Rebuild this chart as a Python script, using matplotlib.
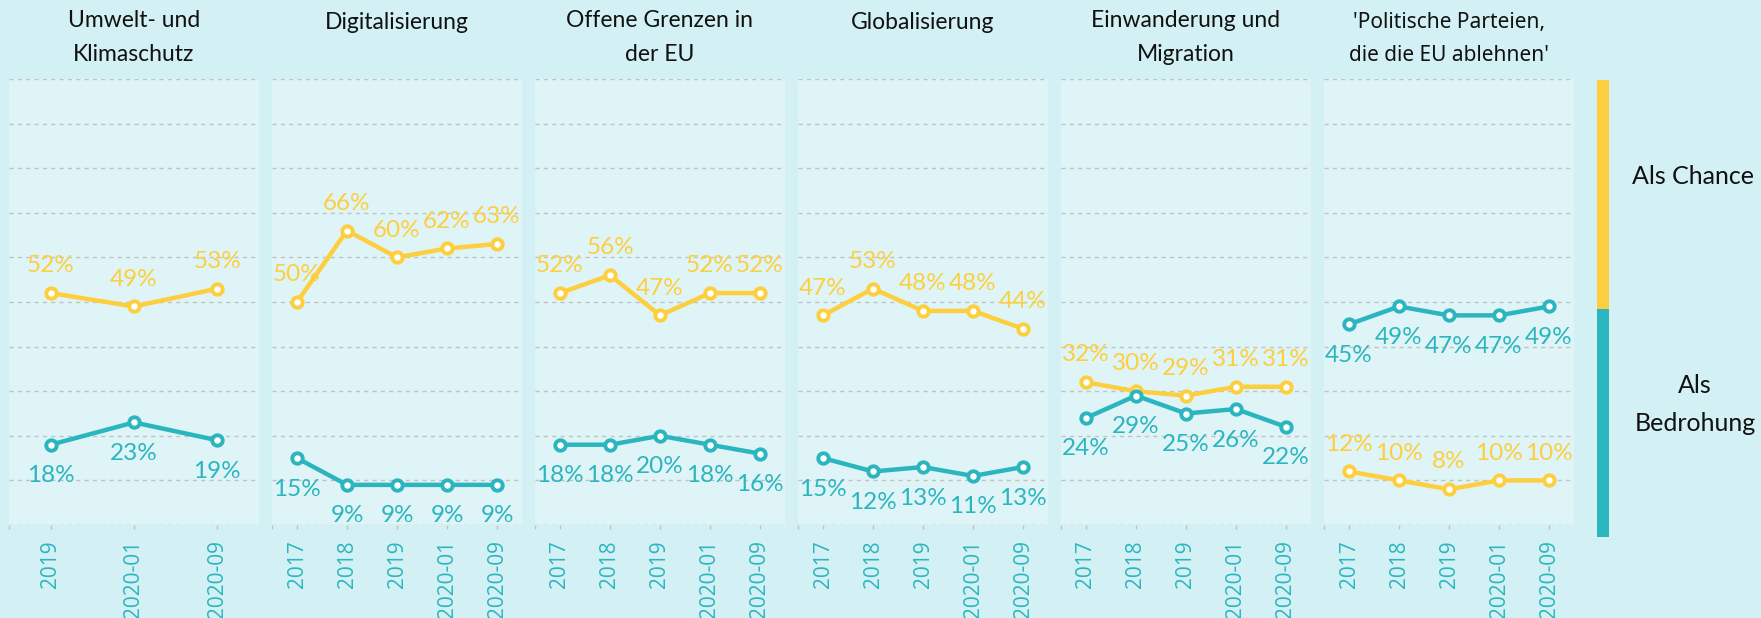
import numpy as np
import matplotlib
matplotlib.use("Agg")
import matplotlib.pyplot as plt

plt.rcParams['font.family'] = ['Lato', 'DejaVu Sans']

# survey waves
waves_short = ['2019', '2020-01', '2020-09']
waves_long = ['2017', '2018', '2019', '2020-01', '2020-09']

titles = ['Umwelt- und\nKlimaschutz', 'Digitalisierung', 'Offene Grenzen in\nder EU',
          'Globalisierung', 'Einwanderung und\nMigration',
          "'Politische Parteien,\ndie die EU ablehnen'"]

# share seeing the topic as a chance (%)
chance = [
    [52, 49, 53],
    [50, 66, 60, 62, 63],
    [52, 56, 47, 52, 52],
    [47, 53, 48, 48, 44],
    [32, 30, 29, 31, 31],
    [12, 10, 8, 10, 10],
]
# share seeing the topic as a threat (%)
threat = [
    [18, 23, 19],
    [15, 9, 9, 9, 9],
    [18, 18, 20, 18, 16],
    [15, 12, 13, 11, 13],
    [24, 29, 25, 26, 22],
    [45, 49, 47, 47, 49],
]
legend_labels = ['Als Chance', 'Als\nBedrohung']
legend_shares = [1, 1]

YELLOW = '#FDCF3E'
TEAL = '#2BB6BF'
BG = '#D3F0F4'
PANEL = '#DFF4F7'
GRID = '#C2C2C2'

W, H = 1761, 618
fig = plt.figure(figsize=(W / 100, H / 100), dpi=100, facecolor=BG)

for i in range(6):
    waves = waves_short if len(chance[i]) == 3 else waves_long
    x = np.arange(len(waves))
    ax = fig.add_axes([(9 + 263 * i) / W, 93 / H, 250 / W, 446 / H])
    ax.set_facecolor(PANEL)
    for s in ax.spines.values():
        s.set_visible(False)
    ax.set_xlim(-0.5, len(waves) - 0.5)
    ax.set_ylim(0, 100)
    ax.set_yticks(np.arange(0, 101, 10))
    ax.yaxis.grid(True, color=GRID, linestyle=(0, (3, 3)), linewidth=1)
    ax.tick_params(axis='y', left=False, labelleft=False)
    ax.set_xticks(x)
    ax.set_xticklabels(waves, rotation=90, fontfamily='Open Sans', fontsize=15, color=TEAL)
    ax.set_xticks([-0.5], minor=True)
    ax.tick_params(axis='x', which='both', length=3, width=1, color=GRID, pad=8)
    ax.set_axisbelow(True)

    for vals, col, off in [(chance[i], YELLOW, 15), (threat[i], TEAL, -27)]:
        ax.plot(x, vals, color=col, lw=3.2, marker='o', ms=7.5, mew=2.8,
                mfc='white', mec=col, zorder=3, clip_on=False)
        for xi, v in zip(x, vals):
            ax.annotate(f'{v}%', (xi, v), xytext=(0, off), textcoords='offset points',
                        ha='center', va='baseline', fontsize=17.5, color=col, zorder=4)

    # baseline of the last title line
    base = 61 if '\n' in titles[i] else 29
    fam = ['Noto Sans', 'DejaVu Sans'] if i == 5 else ['Lato', 'DejaVu Sans']
    fig.text((9 + 263 * i + 125) / W, 1 - base / H, titles[i], ha='center', va='baseline',
             fontsize=15 if i == 5 else 16.5, family=fam, linespacing=1.75, color='#111111')

# colour key on the right
lax = fig.add_axes([1597 / W, 81 / H, 12 / W, 457 / H])
lax.bar([0], [legend_shares[1]], width=1, color=TEAL)
lax.bar([0], [legend_shares[0]], bottom=[legend_shares[1]], width=1, color=YELLOW)
lax.set_xlim(-0.5, 0.5)
lax.set_ylim(0, sum(legend_shares))
lax.axis('off')

fig.text(1693 / W, 1 - 184 / H, legend_labels[0], ha='center', va='baseline',
         fontsize=18, color='#111111')
fig.text(1695 / W, 1 - 431 / H, legend_labels[1], ha='center', va='baseline',
         fontsize=18, color='#111111', linespacing=1.8)

fig.savefig('out.png', dpi=100, facecolor=BG)
